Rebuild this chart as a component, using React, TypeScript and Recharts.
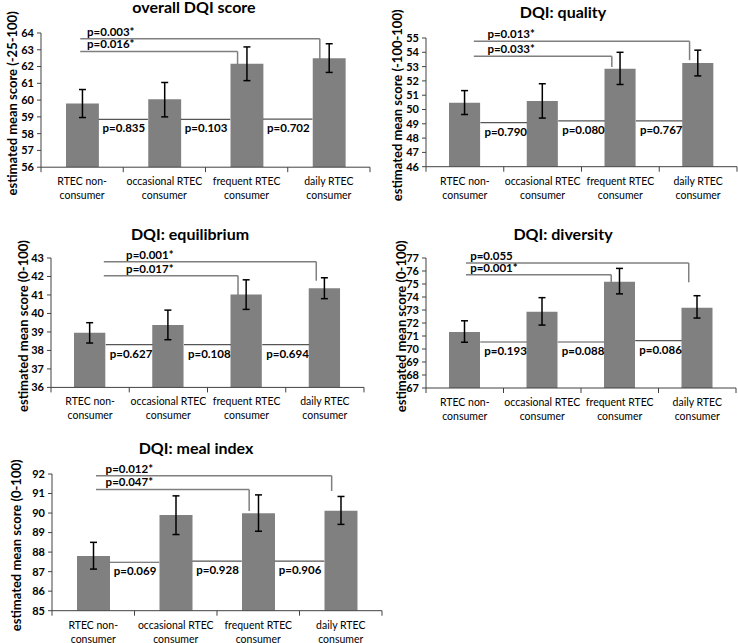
import React from 'react';
import { BarChart, Bar, XAxis, YAxis, ErrorBar, ReferenceLine, ReferenceDot } from 'recharts';

const FONT = 'Lato, "Open Sans", sans-serif';

// ---- shared categories ----
const categoryKeys = ['RTEC non-consumer', 'occasional RTEC consumer', 'frequent RTEC consumer', 'daily RTEC consumer'];
const categoryLines = [
  ['RTEC non-', 'consumer'],
  ['occasional RTEC', 'consumer'],
  ['frequent RTEC', 'consumer'],
  ['daily RTEC', 'consumer'],
];

// ---- panel 1: overall DQI score ----
const overallMean = [59.8, 60.05, 62.16, 62.49];
const overallLow = [58.96, 59.0, 61.16, 61.65];
const overallHigh = [60.63, 61.05, 63.17, 63.36];
const overallAdjP = ['p=0.835', 'p=0.103', 'p=0.702'];
const overallAdjLevel = [58.85, 58.85, 58.87];
const overallBracketP = ['p=0.016*', 'p=0.003*'];
const overallBracketLevel = [62.9, 63.66];
const overallBracketEnd = [61.77, 62.45];

// ---- panel 2: quality ----
const qualityMean = [50.48, 50.6, 52.85, 53.25];
const qualityLow = [49.65, 49.4, 51.75, 52.35];
const qualityHigh = [51.32, 51.8, 54.0, 54.15];
const qualityAdjP = ['p=0.790', 'p=0.080', 'p=0.767'];
const qualityAdjLevel = [49.08, 49.2, 49.2];
const qualityBracketP = ['p=0.033*', 'p=0.013*'];
const qualityBracketLevel = [53.72, 54.77];
const qualityBracketEnd = [52.98, 53.45];

// ---- panel 3: equilibrium ----
const equilibriumMean = [38.95, 39.38, 41.02, 41.37];
const equilibriumLow = [38.4, 38.58, 40.22, 40.8];
const equilibriumHigh = [39.5, 40.18, 41.82, 41.93];
const equilibriumAdjP = ['p=0.627', 'p=0.108', 'p=0.694'];
const equilibriumAdjLevel = [38.31, 38.31, 38.31];
const equilibriumBracketP = ['p=0.017*', 'p=0.001*'];
const equilibriumBracketLevel = [42.04, 42.8];
const equilibriumBracketEnd = [40.96, 41.77];

// ---- panel 4: diversity ----
const diversityMean = [71.31, 72.87, 75.18, 73.18];
const diversityLow = [70.52, 71.84, 74.24, 72.38];
const diversityHigh = [72.17, 73.95, 76.2, 74.1];
const diversityAdjP = ['p=0.193', 'p=0.088', 'p=0.086'];
const diversityAdjLevel = [70.54, 70.54, 70.64];
const diversityBracketP = ['p=0.001*', 'p=0.055'];
const diversityBracketLevel = [75.72, 76.62];
const diversityBracketEnd = [74.56, 75.13];

// ---- panel 5: meal index ----
const mealMean = [87.8, 89.9, 89.99, 90.12];
const mealLow = [87.13, 88.9, 89.07, 89.42];
const mealHigh = [88.5, 90.88, 90.93, 90.85];
const mealAdjP = ['p=0.069', 'p=0.928', 'p=0.906'];
const mealAdjLevel = [87.48, 87.54, 87.54];
const mealBracketP = ['p=0.047*', 'p=0.012*'];
const mealBracketLevel = [91.21, 91.91];
const mealBracketEnd = [90.1, 91.13];

const bracketTargets = [2, 3];

const panels = [
  {
    title: 'overall DQI score', yTitle: 'estimated mean score (-25-100)', domain: [56, 64],
    mean: overallMean, low: overallLow, high: overallHigh,
    adjP: overallAdjP, adjLevel: overallAdjLevel,
    bP: overallBracketP, bLevel: overallBracketLevel, bEnd: overallBracketEnd,
    layout: { plotX: 41, plotY: 33.3, plotW: 329, plotH: 134.2, titleX: 194, titleY: 12.5, yTitleX: 12, bStart: 0.477, bLabel: 0.56 },
  },
  {
    title: 'DQI: quality', yTitle: 'estimated mean score (-100-100)', domain: [46, 55],
    mean: qualityMean, low: qualityLow, high: qualityHigh,
    adjP: qualityAdjP, adjLevel: qualityAdjLevel,
    bP: qualityBracketP, bLevel: qualityBracketLevel, bEnd: qualityBracketEnd,
    layout: { plotX: 426, plotY: 38, plotW: 311, plotH: 128.7, titleX: 563, titleY: 18, yTitleX: 397, bStart: 0.615, bLabel: 0.79 },
  },
  {
    title: 'DQI: equilibrium', yTitle: 'estimated mean score (0-100)', domain: [36, 43],
    mean: equilibriumMean, low: equilibriumLow, high: equilibriumHigh,
    adjP: equilibriumAdjP, adjLevel: equilibriumAdjLevel,
    bP: equilibriumBracketP, bLevel: equilibriumBracketLevel, bEnd: equilibriumBracketEnd,
    layout: { plotX: 51, plotY: 258.3, plotW: 313, plotH: 129.4, titleX: 190, titleY: 239.5, yTitleX: 23, bStart: 0.675, bLabel: 0.96 },
  },
  {
    title: 'DQI: diversity', yTitle: 'estimated mean score (0-100)', domain: [67, 77],
    mean: diversityMean, low: diversityLow, high: diversityHigh,
    adjP: diversityAdjP, adjLevel: diversityAdjLevel,
    bP: diversityBracketP, bLevel: diversityBracketLevel, bEnd: diversityBracketEnd,
    layout: { plotX: 426, plotY: 258.3, plotW: 310, plotH: 130, titleX: 563, titleY: 239.5, yTitleX: 401, bStart: 0.516, bLabel: 0.57 },
  },
  {
    title: 'DQI: meal index', yTitle: 'estimated mean score (0-100)', domain: [85, 92],
    mean: mealMean, low: mealLow, high: mealHigh,
    adjP: mealAdjP, adjLevel: mealAdjLevel,
    bP: mealBracketP, bLevel: mealBracketLevel, bEnd: mealBracketEnd,
    layout: { plotX: 52, plotY: 474, plotW: 330, plotH: 136.7, titleX: 196, titleY: 453.5, yTitleX: 16, bStart: 0.533, bLabel: 0.65 },
  },
];

const AXIS = '#404040';
const BRACKET = '#7f7f7f';
const CAT_TICKS = [0.5, 1.5, 2.5, 3.5];

function CatTick(props: any) {
  const { x, y, payload, bw } = props;
  const i = Math.round(Number(payload.value) - 0.5);
  const lines = categoryLines[i] || [];
  return (
    <g>
      <line x1={x - bw / 2} x2={x - bw / 2} y1={y} y2={y + 5} stroke={AXIS} strokeWidth={1} />
      {i === 3 && <line x1={x + bw / 2} x2={x + bw / 2} y1={y} y2={y + 5} stroke={AXIS} strokeWidth={1} />}
      {lines.map((t: string, k: number) => (
        <text key={k} x={x} y={y + 18 + k * 14} textAnchor="middle" fontSize={10.5} fontFamily={FONT} fill="#000">
          {t}
        </text>
      ))}
    </g>
  );
}

function makeTextShape(label: string, dx: number, dy: number) {
  return (props: any) => (
    <text x={props.cx + dx} y={props.cy + dy} fontSize={11.5} fontWeight={700} fontFamily={FONT} fill="#000">
      {label}
    </text>
  );
}

function Panel({ p }: { p: any }) {
  const L = p.layout;
  const yW = 40, top = 40, bottom = 45, right = 2;
  const width = yW + L.plotW + right;
  const height = top + L.plotH + bottom;
  const bw = L.plotW / 4;
  const data = categoryKeys.map((name, i) => ({
    name,
    pos: i + 0.5,
    mean: p.mean[i],
    err: [p.mean[i] - p.low[i], p.high[i] - p.mean[i]],
  }));
  const ticks: number[] = [];
  for (let v = p.domain[0]; v <= p.domain[1]; v++) ticks.push(v);

  return (
    <div style={{ position: 'absolute', left: L.plotX - yW, top: L.plotY - top }}>
      <BarChart width={width} height={height} data={data} margin={{ top, right, left: 0, bottom: 0 }} barSize={bw * 0.4}>
        <XAxis
          dataKey="pos"
          type="number"
          domain={[0, 4]}
          allowDataOverflow
          ticks={CAT_TICKS}
          interval={0}
          height={bottom}
          tickLine={false}
          tickSize={0}
          tickMargin={0}
          axisLine={{ stroke: AXIS, strokeWidth: 1 }}
          tick={<CatTick bw={bw} />}
        />
        <YAxis
          domain={p.domain}
          ticks={ticks}
          interval={0}
          width={yW}
          allowDataOverflow
          tickSize={4}
          tickMargin={3}
          axisLine={{ stroke: AXIS, strokeWidth: 1 }}
          tickLine={{ stroke: AXIS, strokeWidth: 1 }}
          tick={{ fontSize: 11, fontWeight: 700, fill: '#000', fontFamily: FONT }}
        />
        <Bar dataKey="mean" fill="#808080" isAnimationActive={false}>
          <ErrorBar dataKey="err" width={3.5} stroke="#000" strokeWidth={1.5} isAnimationActive={false} />
        </Bar>
        {p.adjP.map((lab: string, i: number) => (
          <ReferenceLine
            key={'adj' + i}
            segment={[{ x: i + 0.7, y: p.adjLevel[i] }, { x: i + 1.3, y: p.adjLevel[i] }]}
            stroke="#555"
            strokeWidth={1.2}
          />
        ))}
        {p.adjP.map((lab: string, i: number) => (
          <ReferenceDot
            key={'adjl' + i}
            x={i + 0.7}
            y={p.adjLevel[i]}
            r={0}
            shape={makeTextShape(lab, 4, 13)}
          />
        ))}
        {p.bP.map((lab: string, k: number) => {
          const dropX = bracketTargets[k] + 0.39;
          return [
            <ReferenceLine
              key={'bh' + k}
              segment={[{ x: L.bStart, y: p.bLevel[k] }, { x: dropX, y: p.bLevel[k] }]}
              stroke={BRACKET}
              strokeWidth={1.5}
            />,
            <ReferenceLine
              key={'bv' + k}
              segment={[{ x: dropX, y: p.bLevel[k] }, { x: dropX, y: p.bEnd[k] }]}
              stroke={BRACKET}
              strokeWidth={1.5}
            />,
            <ReferenceDot
              key={'bl' + k}
              x={L.bLabel}
              y={p.bLevel[k]}
              r={0}
              shape={makeTextShape(lab, 0, -3)}
            />,
          ];
        })}
      </BarChart>
    </div>
  );
}

export default function App() {
  return (
    <div style={{ position: 'absolute', left: 0, top: 0, width: 738, height: 643, overflow: 'hidden', background: '#fff' }}>
      {panels.map((p, i) => (
        <Panel key={i} p={p} />
      ))}
      <svg width={738} height={643} style={{ position: 'absolute', left: 0, top: 0, pointerEvents: 'none' }}>
        {panels.map((p, i) => {
          const L = p.layout;
          const cy = L.plotY + L.plotH / 2 + 3;
          return (
            <g key={i}>
              <text x={L.titleX} y={L.titleY} textAnchor="middle" fontSize={16} fontWeight={700} fontFamily={FONT} fill="#000">
                {p.title}
              </text>
              <text
                x={L.yTitleX}
                y={cy}
                transform={`rotate(-90 ${L.yTitleX} ${cy})`}
                textAnchor="middle"
                dominantBaseline="central"
                fontSize={13}
                fontWeight={700}
                fontFamily={FONT}
                fill="#000"
              >
                {p.yTitle}
              </text>
            </g>
          );
        })}
      </svg>
    </div>
  );
}
